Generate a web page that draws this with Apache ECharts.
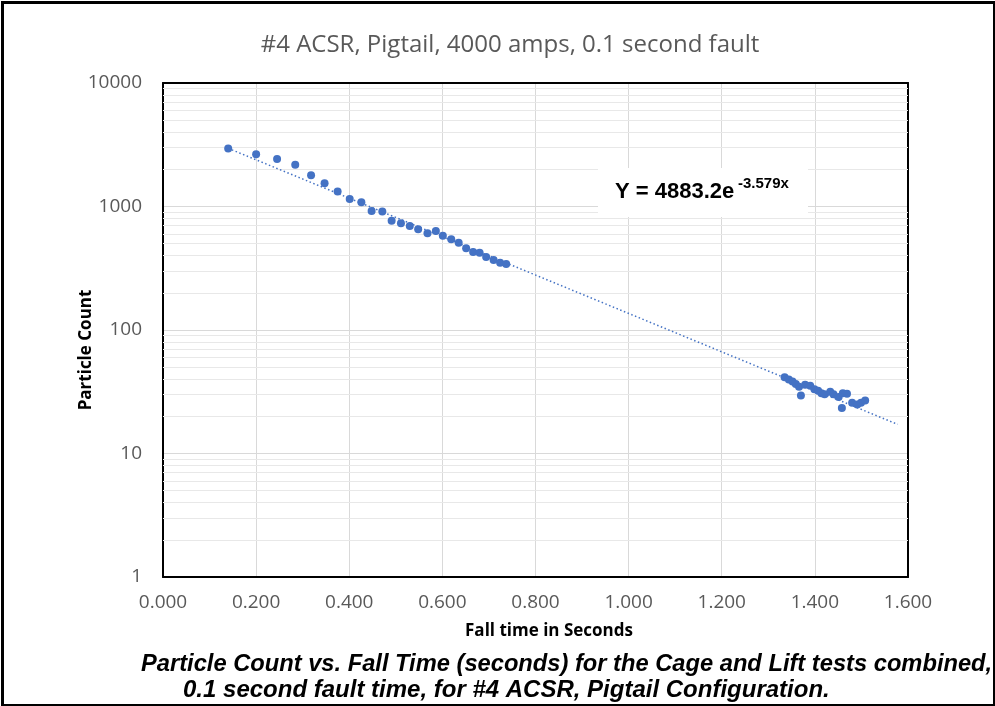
<!DOCTYPE html>
<html>
<head>
<meta charset="utf-8">
<script src="https://cdn.jsdelivr.net/npm/echarts@6/dist/echarts.min.js"></script>
<style>
html,body{margin:0;padding:0;background:#fff;}
#c{width:995px;height:706px;}
</style>
</head>
<body>
<div id="c"></div>
<script>
// ---- Data ----
const fallTime = [
  0.140, 0.200, 0.245, 0.284, 0.318, 0.347, 0.375, 0.401, 0.426, 0.448, 0.471, 0.491,
  0.511, 0.530, 0.548, 0.568, 0.586, 0.601, 0.619, 0.635, 0.651, 0.666, 0.680, 0.694,
  0.710, 0.724, 0.737,
  1.335, 1.344, 1.352, 1.359, 1.366, 1.370, 1.379, 1.390, 1.399, 1.407, 1.414, 1.421,
  1.433, 1.440, 1.451, 1.458, 1.460, 1.469, 1.480, 1.491, 1.499, 1.508
];
const particleCount = [
  2950, 2650, 2420, 2180, 1790, 1540, 1320, 1150, 1080, 920, 912, 767,
  731, 695, 654, 606, 634, 580, 543, 509, 459, 429, 423, 390,
  369, 351, 342,
  41.5, 39.7, 38.2, 36.5, 34.7, 29.5, 36.1, 35.4, 33.2, 32.2, 30.8, 30.2,
  31.6, 30.2, 28.7, 23.4, 30.8, 30.5, 25.7, 24.9, 25.7, 26.9
];
// Exponential trendline endpoints (Y = 4883.2e^-3.579x)
const trendX = [0.140, 1.578];
const trendY = [2960, 17.2];
// minor log grid values
const minorGrid = [2,3,4,5,6,7,8,9,20,30,40,50,60,70,80,90,200,300,400,500,600,700,800,900,2000,3000,4000,5000,6000,7000,8000,9000];

const titleText = '#4 ACSR, Pigtail, 4000 amps, 0.1 second fault';
const yName = 'Particle Count';
const xName = 'Fall time in Seconds';
const eqMain = 'Y = 4883.2e';
const eqSup = '-3.579x';
const caption1 = 'Particle Count vs. Fall Time (seconds) for the Cage and Lift tests combined,';
const caption2 = '0.1 second fault time, for #4 ACSR, Pigtail Configuration.';

const blue = '#4472C4';
const chart = echarts.init(document.getElementById('c'), null, {renderer: 'canvas'});

const gridLine = {show: true, showMinLine: false, showMaxLine: false, lineStyle: {color: '#d9d9d9', width: 1}};
const blackLine = {show: true, onZero: false, lineStyle: {color: '#000', width: 2}};

const option = {
  animation: false,
  backgroundColor: '#fff',
  title: {
    text: titleText, left: 505, top: 28, textAlign: 'center',
    textStyle: {fontFamily: 'Open Sans', fontSize: 24, fontWeight: 'normal', color: '#595959'}
  },
  grid: {left: 163, right: 87, top: 83, bottom: 129},
  xAxis: [{
    type: 'value', min: 0, max: 1.6, interval: 0.2, position: 'bottom',
    axisLine: blackLine, axisTick: {show: false},
    splitLine: gridLine,
    axisLabel: {formatter: v => v.toFixed(3), fontFamily: 'Open Sans', fontSize: 19, color: '#595959', margin: 16}
  }, {
    type: 'value', min: 0, max: 1.6, interval: 0.2, position: 'top',
    axisLine: blackLine, axisTick: {show: false}, splitLine: {show: false}, axisLabel: {show: false}
  }],
  yAxis: [{
    type: 'log', logBase: 10, min: 1, max: 10000, position: 'left',
    axisLine: blackLine, axisTick: {show: false},
    splitLine: gridLine,
    axisLabel: {formatter: v => String(v), fontFamily: 'Open Sans', fontSize: 19, color: '#595959', margin: 21}
  }, {
    type: 'log', logBase: 10, min: 1, max: 10000, position: 'right',
    axisLine: blackLine, axisTick: {show: false}, splitLine: {show: false}, axisLabel: {show: false}
  }],
  series: [
    {
      type: 'line', data: trendX.map((x, i) => [x, trendY[i]]),
      symbol: 'none', silent: true, z: 3,
      lineStyle: {color: blue, width: 1.5, type: [1.5, 2.5]},
      markLine: {
        silent: true, symbol: 'none', animation: false,
        label: {show: false},
        lineStyle: {color: '#e8e8e8', width: 1, type: 'solid'},
        data: minorGrid.map(v => ({yAxis: v})),
        z: 1
      }
    },
    {
      type: 'scatter', data: fallTime.map((x, i) => [x, particleCount[i]]),
      symbol: 'circle', symbolSize: 8, z: 4,
      itemStyle: {color: blue, opacity: 1}
    }
  ],
  graphic: [
    {type: 'rect', left: 0, top: 0, shape: {x: 1.5, y: 1.5, width: 992, height: 703}, style: {fill: 'none', stroke: '#000', lineWidth: 3}, z: 100},
    {type: 'rect', shape: {x: 598, y: 168, width: 210, height: 49}, style: {fill: '#fff'}, z: 50},
    {type: 'text', x: 615, y: 203, style: {text: eqMain, fontFamily: 'Liberation Sans', fontWeight: 'bold', fontSize: 22, fill: '#000', verticalAlign: 'bottom'}, z: 51},
    {type: 'text', x: 738, y: 191, style: {text: eqSup, fontFamily: 'Liberation Sans', fontWeight: 'bold', fontSize: 15, fill: '#000', verticalAlign: 'bottom'}, z: 51},
    {type: 'text', x: 86, y: 350, rotation: Math.PI / 2, style: {text: yName, fontFamily: 'Open Sans', fontWeight: 'bold', fontSize: 17, fill: '#000', align: 'center', verticalAlign: 'middle'}, z: 51},
    {type: 'text', x: 549, y: 631, style: {text: xName, fontFamily: 'Open Sans', fontWeight: 'bold', fontSize: 17, fill: '#000', align: 'center', verticalAlign: 'middle'}, z: 51},
    {type: 'text', x: 141, y: 664, style: {text: caption1, fontFamily: 'Liberation Sans', fontWeight: 'bold', fontStyle: 'italic', fontSize: 23.7, fill: '#000', align: 'left', verticalAlign: 'middle'}, z: 51},
    {type: 'text', x: 183, y: 690, style: {text: caption2, fontFamily: 'Liberation Sans', fontWeight: 'bold', fontStyle: 'italic', fontSize: 24, fill: '#000', align: 'left', verticalAlign: 'middle'}, z: 51}
  ]
};
chart.setOption(option);
</script>
</body>
</html>
